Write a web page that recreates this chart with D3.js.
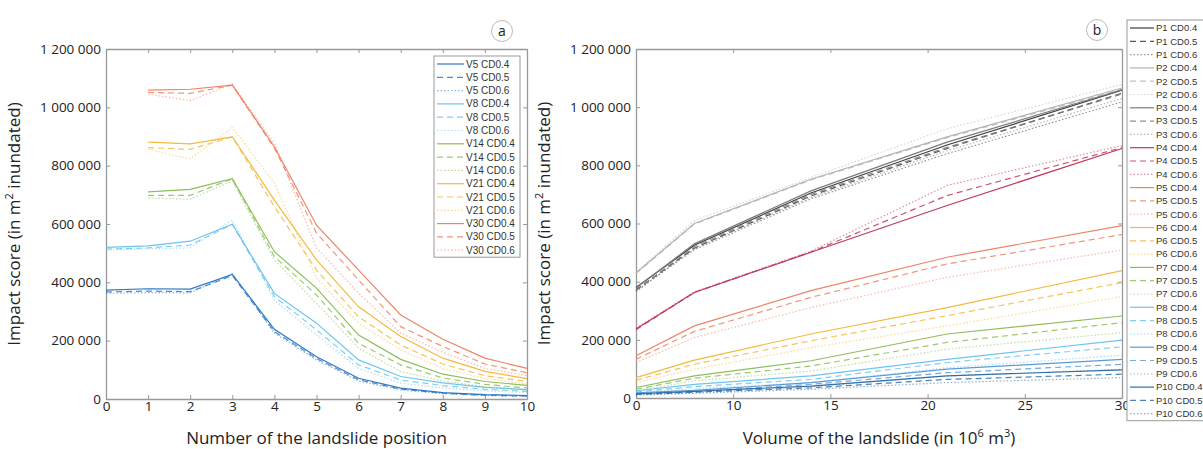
<!DOCTYPE html>
<html>
<head>
<meta charset="utf-8">
<script src="https://cdn.jsdelivr.net/npm/d3@7"></script>
<style>
  body { margin: 0; background: white; }
  svg { display: block; font-family: "Open Sans", sans-serif; }
  .axis path, .axis line { stroke: #999; }
  .axis text { fill: #222; font-size: 13.5px; font-family: "Open Sans", sans-serif; }
  .legend text { font-family: "Liberation Sans", Arial, sans-serif; font-size: 10px; fill: #333; }
</style>
</head>
<body>
<svg id="chart" width="1203" height="449"></svg>
<script>
// ---- data: left panel (impact score by landslide position) ----
var positions = [0, 1, 2, 3, 4, 5, 6, 7, 8, 9, 10];
var cdLabels = ["CD0.4", "CD0.5", "CD0.6"];
var volumeNames = ["V5", "V8", "V14", "V21", "V30"];

var scoreV5 = [
    [373000, 378000, 377000, 427000, 239000, 145000, 71000, 37000, 22000, 15000, 12000],
    [367000, 370000, 368000, 423000, 231000, 139000, 66000, 34000, 20000, 13000, 10000],
    [362000, 365000, 364000, 430000, 226000, 134000, 62000, 31000, 18000, 12000, 9000]
];
var scoreV8 = [
    [520000, 525000, 541000, 599000, 362000, 260000, 134000, 77000, 55000, 40000, 32000],
    [514000, 518000, 528000, 599000, 351000, 237000, 117000, 65000, 46000, 33000, 26000],
    [511000, 515000, 518000, 614000, 339000, 219000, 105000, 54000, 38000, 28000, 22000]
];
var scoreV14 = [
    [null, 710000, 719000, 755000, 505000, 380000, 219000, 136000, 85000, 60000, 47000],
    [null, 698000, 698000, 755000, 488000, 357000, 191000, 117000, 72000, 50000, 38000],
    [null, 689000, 685000, 748000, 477000, 328000, 174000, 94000, 62000, 42000, 32000]
];
var scoreV21 = [
    [null, 881000, 875000, 899000, 682000, 477000, 316000, 214000, 140000, 95000, 70000],
    [null, 862000, 856000, 899000, 659000, 442000, 282000, 185000, 120000, 80000, 60000],
    [null, 856000, 823000, 931000, 740000, 414000, 260000, 168000, 105000, 70000, 52000]
];
var scoreV30 = [
    [null, 1059000, 1062000, 1076000, 865000, 596000, 442000, 288000, 205000, 140000, 105000],
    [null, 1051000, 1048000, 1076000, 860000, 569000, 408000, 248000, 180000, 120000, 90000],
    [null, 1045000, 1023000, 1080000, 877000, 518000, 363000, 226000, 160000, 105000, 80000]
];
var volumeColors = ["#2f78c4", "#6cc5f0", "#8dbf5a", "#f5b93f", "#ee8466"];

// ---- data: right panel (impact score by landslide volume) ----
var volumes = [5, 8, 14, 21, 30];
var positionNames = ["P1", "P2", "P3", "P4", "P5", "P6", "P7", "P8", "P9", "P10"];

var scoreP1 = [[380000, 525000, 705000, 870000, 1058000], [372000, 515000, 695000, 858000, 1048000], [368000, 510000, 685000, 840000, 1018000]];
var scoreP2 = [[430000, 600000, 752000, 898000, 1066000], [428000, 598000, 750000, 895000, 1062000], [432000, 610000, 758000, 926000, 1078000]];
var scoreP3 = [[378000, 530000, 712000, 880000, 1060000], [370000, 520000, 700000, 862000, 1045000], [365000, 515000, 690000, 850000, 1030000]];
var scoreP4 = [[237000, 363000, 501000, 662000, 858000], [235000, 363000, 502000, 696000, 861000], [240000, 365000, 505000, 731000, 868000]];
var scoreP5 = [[145000, 248000, 369000, 484000, 593000], [133000, 229000, 346000, 461000, 562000], [122000, 208000, 311000, 415000, 509000]];
var scoreP6 = [[70000, 130000, 220000, 311000, 438000], [61000, 116000, 197000, 283000, 397000], [53000, 99000, 173000, 248000, 349000]];
var scoreP7 = [[36000, 76000, 128000, 220000, 282000], [30000, 68000, 110000, 191000, 259000], [24000, 59000, 93000, 168000, 225000]];
var scoreP8 = [[25000, 47000, 76000, 133000, 199000], [21000, 39000, 64000, 122000, 176000], [18000, 32000, 53000, 104000, 147000]];
var scoreP9 = [[18000, 26000, 53000, 99000, 133000], [15000, 22000, 47000, 87000, 116000], [12000, 18000, 39000, 76000, 99000]];
var scoreP10 = [[14000, 23000, 41000, 76000, 97000], [12000, 20000, 35000, 64000, 82000], [10000, 16000, 30000, 53000, 70000]];
var positionColors = ["#3c3c3c", "#b4b4b4", "#7a7a7a", "#c0395a", "#ee8466", "#f5b93f", "#8dbf5a", "#6cc5f0", "#5b9bd5", "#2f6ea8"];

var yTicks = [0, 200000, 400000, 600000, 800000, 1000000, 1200000];
var xTicksA = [0, 1, 2, 3, 4, 5, 6, 7, 8, 9, 10];
var xTicksB = [5, 10, 15, 20, 25, 30];
var xTickLabelsB = ["0", "10", "15", "20", "25", "30"];

// ---- layout ----
var svg = d3.select("#chart");

var dashStyles = [null, "6,4", "1.5,2"];
var cdOpacity = [1, 0.85, 0.55];

var fmt = d => d3.format(",")(d).replace(/,/g, " ");

function drawFrame(x, y, xTicks, xFormat) {
    var x0 = x.range()[0], x1 = x.range()[1];
    var y0 = y.range()[0], y1 = y.range()[1];

    svg.append("g").attr("class", "axis")
        .attr("transform", `translate(0,${y0})`)
        .call(d3.axisBottom(x).tickValues(xTicks).tickFormat(xFormat).tickSizeInner(-4).tickSizeOuter(0).tickPadding(2));
    svg.append("g").attr("class", "axis")
        .attr("transform", `translate(0,${y1})`)
        .call(d3.axisTop(x).tickValues(xTicks).tickFormat("").tickSizeInner(-4).tickSizeOuter(0));
    svg.append("g").attr("class", "axis")
        .attr("transform", `translate(${x0},0)`)
        .call(d3.axisLeft(y).tickValues(yTicks).tickFormat(fmt).tickSizeInner(-4).tickSizeOuter(0).tickPadding(5));
    svg.append("g").attr("class", "axis")
        .attr("transform", `translate(${x1},0)`)
        .call(d3.axisRight(y).tickValues(yTicks).tickFormat("").tickSizeInner(-4).tickSizeOuter(0));

    svg.selectAll(".axis .domain").attr("stroke-width", 1.3);

    svg.append("text")
        .attr("text-anchor", "middle")
        .attr("transform", `translate(${x0 - 86},${(y0 + y1) / 2}) rotate(-90)`)
        .style("font-size", "17px")
        .style("fill", "#222")
        .html("Impact score (in m<tspan baseline-shift='super' font-size='11px'>2</tspan> inundated)");
}

function drawXLabel(x, html) {
    svg.append("text")
        .attr("text-anchor", "middle")
        .attr("x", (x.range()[0] + x.range()[1]) / 2)
        .attr("y", 444)
        .style("font-size", "17px")
        .style("fill", "#222")
        .html(html);
}

function drawLines(x, y, xs, groups, colors) {
    var line = d3.line()
        .defined(d => d[1] != null)
        .x(d => x(d[0]))
        .y(d => y(d[1]));
    groups.forEach((g, gi) => {
        g.forEach((vals, ci) => {
            svg.append("path")
                .attr("d", line(xs.map((v, i) => [v, vals[i]])))
                .attr("fill", "none")
                .attr("stroke", colors[gi])
                .attr("stroke-width", 1.2)
                .attr("stroke-opacity", cdOpacity[ci])
                .attr("stroke-dasharray", dashStyles[ci]);
        });
    });
}

function drawLegend(x, y, w, names, colors, rowH, lineLen, fontSize) {
    var items = [];
    names.forEach((n, gi) => cdLabels.forEach((c, ci) => items.push({ name: n + " " + c, color: colors[gi], ci: ci })));
    var h = (items.length - 1) * rowH + 15;
    var lg = svg.append("g").attr("class", "legend").attr("transform", `translate(${x},${y})`);
    lg.append("rect").attr("width", w).attr("height", h)
        .attr("fill", "white").attr("stroke", "#999").attr("stroke-width", 1);
    var rows = lg.selectAll(".row").data(items).enter().append("g")
        .attr("transform", (d, i) => `translate(0,${8 + i * rowH})`);
    rows.append("line")
        .attr("x1", 3).attr("x2", 3 + lineLen)
        .attr("stroke", d => d.color)
        .attr("stroke-width", 1.2)
        .attr("stroke-opacity", d => cdOpacity[d.ci])
        .attr("stroke-dasharray", d => dashStyles[d.ci]);
    rows.append("text")
        .attr("x", 5 + lineLen).attr("dy", "0.35em")
        .style("font-size", fontSize + "px")
        .text(d => d.name);
}

function drawBadge(cx, cy, letter) {
    svg.append("circle").attr("cx", cx).attr("cy", cy).attr("r", 10.5)
        .attr("fill", "white").attr("stroke", "#bbb");
    svg.append("text").attr("x", cx).attr("y", cy).attr("dy", "0.35em")
        .attr("text-anchor", "middle").style("font-size", "14px").style("fill", "#222")
        .text(letter);
}

// ---- panel a ----
var xA = d3.scaleLinear().domain([0, 10]).range([106, 527]);
var yA = d3.scaleLinear().domain([0, 1200000]).range([399, 49]);
drawFrame(xA, yA, xTicksA, d => d);
drawXLabel(xA, "Number of the landslide position");
drawLines(xA, yA, positions, [scoreV5, scoreV8, scoreV14, scoreV21, scoreV30], volumeColors);
drawLegend(434, 56, 86, volumeNames, volumeColors, 13.3, 27, 10);
drawBadge(502, 31, "a");

// ---- panel b ----
var xB = d3.scaleLinear().domain([5, 30]).range([636, 1122]);
var yB = d3.scaleLinear().domain([0, 1200000]).range([398, 49]);
drawFrame(xB, yB, xTicksB, (d, i) => xTickLabelsB[i]);
drawXLabel(xB, "Volume of the landslide (in 10<tspan baseline-shift='super' font-size='11px'>6</tspan> m<tspan baseline-shift='super' font-size='11px'>3</tspan>)");
drawLines(xB, yB, volumes,
    [scoreP1, scoreP2, scoreP3, scoreP4, scoreP5, scoreP6, scoreP7, scoreP8, scoreP9, scoreP10],
    positionColors);
drawLegend(1127, 20, 100, positionNames, positionColors, 13.3, 24, 9.5);
drawBadge(1097, 30, "b");
</script>
</body>
</html>
